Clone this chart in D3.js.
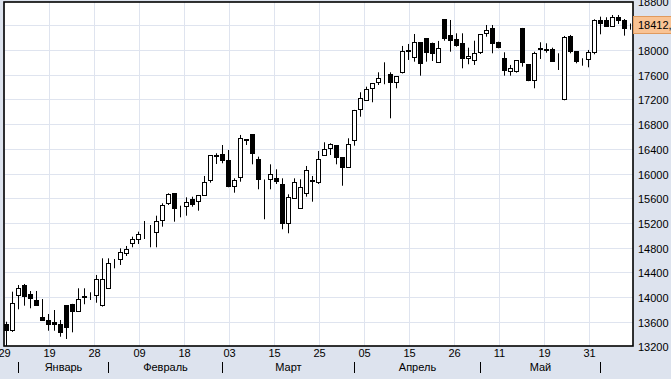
<!DOCTYPE html>
<html><head><meta charset="utf-8">
<script src="https://cdn.jsdelivr.net/npm/d3@7"></script>
<style>html,body{margin:0;padding:0;background:#dde3ee;overflow:hidden}svg{display:block}</style>
</head><body><svg id="c" width="671" height="379"></svg>
<script>
const openV=[13563,13455,14027,14200,14054,13957,13677,13617,13589,13552,13860,13892,13774,14000,14030,14038,13865,14147,14560,14606,
14714,14877,14930,15085,15088,15055,15238,15525,15687,15455,15481,15590,15551,15655,15887,16285,16324,16211,15794,15947,
16555,16633,16239,15895,15914,15919,15822,15201,15606,15444,15687,15885,15870,16303,16417,16465,16260,16109,16551,17049,
17195,17390,17481,17600,17617,17487,17649,17990,17892,18136,18200,18119,17811,18497,18238,18173,18119,17876,17844,17967,
18281,18363,18129,17865,17659,17659,18363,17768,17513,18038,18005,18011,17875,17200,18226,17983,17828,17849,17967,18481,
18481,18388,18541,18481,18400];
const highV=[13605,14092,14200,14217,14103,14103,13973,13730,13795,13633,13865,13895,14147,14147,14082,14363,14633,14633,14622,14795,
14833,14984,15065,15238,15173,15324,15525,15687,15690,15486,15622,15632,15660,15968,16308,16336,16470,16389,15930,16633,
16563,16644,16281,15911,16157,16076,15930,15671,15930,15914,16130,15968,16373,16514,16498,16470,16260,16579,17040,17325,
17416,17475,17649,17811,17649,17580,18076,18108,18270,18140,18205,18130,18157,18500,18497,18281,18281,18048,18161,18260,
18416,18416,18145,17973,17768,17845,18368,17770,17983,18136,18119,18048,17957,18238,18254,17985,17876,18011,18508,18551,
18541,18578,18578,18513,18440];
const lowV=[13190,13440,13806,13865,13823,13860,13617,13459,13459,13362,13325,13433,13765,13888,13957,13913,13850,14140,14471,14525,
14671,14812,14865,14946,14812,14812,15146,15497,15227,15298,15324,15470,15405,15650,15859,16162,16174,15785,15697,15875,
16470,16157,15752,15266,15752,15838,15104,15039,15600,15440,15632,15551,15838,16300,16308,16157,15810,16100,16459,16929,
17190,17163,17443,17455,16903,17390,17630,17849,17821,17594,17821,17832,17805,18161,17983,18064,17714,17779,17768,17946,
18226,17957,18038,17594,17594,17643,17740,17505,17390,17865,17967,17821,17686,17195,17957,17795,17756,17730,17941,18265,
18385,18385,18432,18243,18340];
const closeV=[13455,13904,14147,14011,13985,13865,13622,13563,13563,13433,13515,13774,13969,14011,14038,14293,14293,14552,14568,14724,
14779,14941,15022,15092,15081,15227,15486,15660,15438,15460,15541,15509,15648,15866,16292,16292,16216,15794,15887,16579,
16551,16336,15903,15892,16000,15875,15201,15622,15859,15778,16049,15892,16239,16401,16482,16271,16109,16482,17033,17228,
17374,17471,17552,17605,17487,17578,17983,17999,18136,17795,17973,17957,18038,18200,18161,18080,17876,17913,17946,18254,
18319,18119,18048,17686,17703,17837,17805,17513,17957,18011,18011,17832,17870,18217,17983,17821,17832,17967,18481,18432,
18388,18541,18486,18363,18412];
const dayTicks=["29","19","28","09","18","03","15","25","05","15","26","11","19","31"];
const monthNames=["Январь","Февраль","Март","Апрель","Май"];
const monthStarts=[2,17,36,58,79,99];
const yTicks=[13200,13600,14000,14400,14800,15200,15600,16000,16400,16800,17200,17600,18000,18400,18800];
const lastLabel="18412,";
const lastValue=18412;

const svg=d3.select("#c");
const font="'Liberation Sans', Arial, sans-serif";
const L=4,T=2,R=633,B=346;
const n=openV.length;
const x=d3.scaleLinear().domain([0,n-1]).range([6,630]);
const y=d3.scaleLinear().domain([13200,18800]).range([346.7,1.3]);
const px=v=>Math.round(x(v))+0.5;
const py=v=>Math.floor(y(v))+0.5;

svg.append("rect").attr("x",L).attr("y",T).attr("width",R-L).attr("height",B-T).attr("fill","#fff");
svg.append("defs").append("clipPath").attr("id","clip").append("rect").attr("x",L).attr("y",T).attr("width",R-L).attr("height",B-T);
const g=svg.append("g").attr("clip-path","url(#clip)");

// grid
g.selectAll("line.hg").data(yTicks).enter().append("line")
 .attr("x1",L).attr("x2",R).attr("y1",d=>py(d)).attr("y2",d=>py(d))
 .attr("stroke","#dfe4ef").attr("stroke-width",1);
const gridIdx=dayTicks.map((d,k)=>7.5*k-1/3);
g.selectAll("line.vg").data(gridIdx).enter().append("line")
 .attr("x1",d=>px(d)).attr("x2",d=>px(d)).attr("y1",T).attr("y2",B)
 .attr("stroke","#dfe4ef").attr("stroke-width",1);

// candles
const idx=d3.range(n);
g.selectAll("line.w").data(idx).enter().append("line")
 .attr("x1",i=>px(i)).attr("x2",i=>px(i))
 .attr("y1",i=>y(highV[i])).attr("y2",i=>y(lowV[i]))
 .attr("stroke","#000").attr("stroke-width",1);
g.selectAll("rect.b").data(idx).enter().append("rect")
 .attr("x",i=>px(i)-2).attr("width",4)
 .attr("y",i=>py(Math.max(openV[i],closeV[i])))
 .attr("height",i=>Math.max(py(Math.min(openV[i],closeV[i]))-py(Math.max(openV[i],closeV[i])),0))
 .attr("fill",i=>closeV[i]>=openV[i]?"#fff":"#000")
 .attr("stroke","#000").attr("stroke-width",1);

// border
svg.append("rect").attr("x",L).attr("y",T).attr("width",R-L).attr("height",B-T)
 .attr("fill","none").attr("stroke","#000").attr("stroke-width",1.6);

// y labels (the one hidden behind the last-price box is not drawn)
const ly=y(lastValue);
svg.selectAll("text.yl").data(yTicks.filter(d=>Math.abs(y(d)-ly)>10)).enter().append("text")
 .attr("x",638).attr("y",d=>py(d)+4).text(d=>d)
 .attr("font-family",font).attr("font-size",11).attr("fill","#000");

// last price box
svg.append("rect").attr("x",633.5).attr("y",Math.round(ly-8)-0.5).attr("width",40).attr("height",17)
 .attr("fill","#f9c394").attr("stroke","#e09a5e").attr("stroke-width",1);
svg.append("text").attr("x",638).attr("y",Math.round(ly)+4).text(lastLabel)
 .attr("font-family",font).attr("font-size",11).attr("fill","#000");

// x day labels
svg.selectAll("text.xl").data(dayTicks).enter().append("text")
 .attr("x",(d,k)=>px(gridIdx[k])).attr("y",357).attr("text-anchor","middle").text(d=>d)
 .attr("font-family",font).attr("font-size",11).attr("fill","#000");

// month separators & labels
svg.selectAll("line.ms").data(monthStarts).enter().append("line")
 .attr("x1",d=>px(d)).attr("x2",d=>px(d)).attr("y1",362).attr("y2",373)
 .attr("stroke","#000").attr("stroke-width",1);
svg.selectAll("text.ml").data(monthNames).enter().append("text")
 .attr("x",(d,k)=>(px(monthStarts[k])+px(monthStarts[k+1]))/2).attr("y",371)
 .attr("text-anchor","middle").text(d=>d)
 .attr("font-family",font).attr("font-size",11).attr("fill","#000");
</script>
</body></html>
